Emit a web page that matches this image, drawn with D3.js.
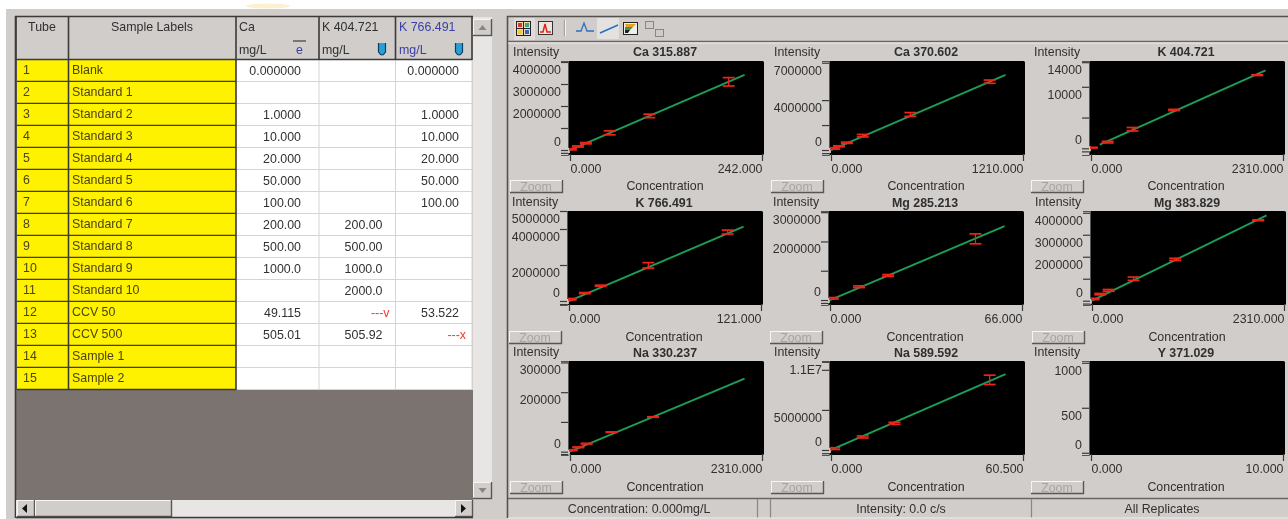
<!DOCTYPE html>
<html><head><meta charset="utf-8">
<style>html,body{margin:0;padding:0;background:#fff;overflow:hidden}svg{display:block;filter:blur(0.5px)}text{font-family:"Liberation Sans",Arial,sans-serif;fill:#303030;font-size:12.4px}</style>
<script src="https://cdn.jsdelivr.net/npm/d3@7"></script>
</head><body>
<svg id="c" width="1288" height="519"></svg>
<script>
// ---------- table data ----------
const tubes = [1,2,3,4,5,6,7,8,9,10,11,12,13,14,15];
const sampleLabels = ["Blank","Standard 1","Standard 2","Standard 3","Standard 4","Standard 5","Standard 6","Standard 7","Standard 8","Standard 9","Standard 10","CCV 50","CCV 500","Sample 1","Sample 2"];
const colCa = ["0.000000","","1.0000","10.000","20.000","50.000","100.00","200.00","500.00","1000.0","","49.115","505.01","",""];
const colK404 = ["","","","","","","","200.00","500.00","1000.0","2000.0","---v","505.92","",""];
const colK766 = ["0.000000","","1.0000","10.000","20.000","50.000","100.00","","","","","53.522","---x","",""];
const analyteHeaders = ["Ca","K 404.721","K 766.491"];

// ---------- calibration data ----------
const panelTitles = ["Ca 315.887","Ca 370.602","K 404.721","K 766.491","Mg 285.213","Mg 383.829","Na 330.237","Na 589.592","Y 371.029"];
const xMaxes = [242,1210,2310,121,66,2310,2310,60.5,10];
const yLimits = [[-227000,4045000],[-400000,7137000],[-1090,14195],[-222000,5000000],[-170000,3040000],[-195000,4080000],[-11200,304800],[-625000,11100000],[-25,1020]];

const ca315Conc=[1,10,20,50,100,200], ca315Int=[30000,160000,310000,780000,1550000,3100000], ca315Err=[25000,25000,30000,90000,80000,190000];
const ca370Conc=[20,50,100,200,500,1000], ca370Int=[120000,300000,580000,1150000,2850000,5480000], ca370Err=[60000,40000,50000,100000,150000,130000];
const k404Conc=[10,200,500,1000,2000], k404Int=[100,1000,3100,6230,11900], k404Err=[60,130,280,100,60];
const k766Conc=[1,10,20,50,100], k766Int=[100000,440000,850000,1980000,3830000], k766Err=[40000,30000,30000,150000,110000];
const mg285Conc=[1,10,20,50], mg285Int=[60000,455000,840000,2090000], mg285Err=[25000,30000,30000,170000];
const mg383Conc=[20,100,200,500,1000,2000], mg383Int=[80000,300000,470000,1000000,1880000,3660000], mg383Err=[30000,30000,40000,75000,50000,20000];
const na330Conc=[20,100,200,500,1000], na330Int=[5000,14700,27000,65700,116600], na330Err=[1500,1000,1000,800,800];
const na589Conc=[1,10,20,50], na589Int=[170000,1630000,3330000,8750000], na589Err=[110000,130000,120000,580000];
const y371Conc=[], y371Int=[], y371Err=[];
const concs=[ca315Conc,ca370Conc,k404Conc,k766Conc,mg285Conc,mg383Conc,na330Conc,na589Conc,y371Conc];
const ints=[ca315Int,ca370Int,k404Int,k766Int,mg285Int,mg383Int,na330Int,na589Int,y371Int];
const errs=[ca315Err,ca370Err,k404Err,k766Err,mg285Err,mg383Err,na330Err,na589Err,y371Err];
// fitted calibration lines: [conc start, conc end], [intensity start, intensity end]
const fitConc=[[0,220],[0,1100],[105,2100],[0,110],[0,60],[0,2100],[0,2100],[0,55],[]];
const fitInt=[[0,3410000],[0,6030000],[600,12680],[0,4130000],[0,2520000],[0,3880000],[0,245800],[0,9460000],[]];
const yTickVals=[
 [-130000,0,1000000,2000000,3000000,4000000],
 [-250000,0,2000000,4000000,7000000],
 [-500,0,5000,10000,14000],
 [-170000,0,2000000,4000000,5000000],
 [-100000,0,1000000,2000000,3000000],
 [-130000,0,1000000,2000000,3000000,4000000],
 [-8000,0,100000,200000,300000],
 [-400000,0,5000000,10000000,11000000],
 [0,500,1000]];
const yTickLabels=[
 {0:"0",2000000:"2000000",3000000:"3000000",4000000:"4000000"},
 {0:"0",4000000:"4000000",7000000:"7000000"},
 {0:"0",10000:"10000",14000:"14000"},
 {0:"0",2000000:"2000000",4000000:"4000000",5000000:"5000000"},
 {0:"0",2000000:"2000000",3000000:"3000000"},
 {0:"0",2000000:"2000000",3000000:"3000000",4000000:"4000000"},
 {0:"0",200000:"200000",300000:"300000"},
 {0:"0",5000000:"5000000",11000000:"1.1E7"},
 {0:"0",500:"500",1000:"1000"}];
const statusTexts=["Concentration: 0.000mg/L","Intensity: 0.0 c/s","All Replicates"];

// ---------- helpers ----------
const BG="#d1cdca", DARK="#3c3a3a", YEL="#fff200", RED="#ee2418", GREEN="#1c9e58";
const svg=d3.select("#c");
const rect=(p,x,y,w,h,f,s)=>p.append("rect").attr("x",x).attr("y",y).attr("width",w).attr("height",h).attr("fill",f).attr("stroke",s||"none");
const line=(p,x1,y1,x2,y2,c,w)=>p.append("line").attr("x1",x1).attr("y1",y1).attr("x2",x2).attr("y2",y2).attr("stroke",c).attr("stroke-width",w||1);
const text=(p,x,y,s,a,o)=>{const t=p.append("text").attr("x",x).attr("y",y).attr("dy",".35em").attr("text-anchor",a||"start").text(s);Object.entries(o||{}).forEach(([k,v])=>t.style(k,v));return t;};
function button(p,x,y,w,h){rect(p,x,y,w,h,BG);line(p,x,y+.5,x+w,y+.5,"#f6f5f3");line(p,x+.5,y,x+.5,y+h,"#f6f5f3");line(p,x,y+h-.5,x+w,y+h-.5,"#5a5654",1.4);line(p,x+w-.5,y,x+w-.5,y+h,"#5a5654",1.4);}

// ---------- window ----------
rect(svg,6,9,1282,510,BG);
svg.append("ellipse").attr("cx",268).attr("cy",6).attr("rx",22).attr("ry",2.5).attr("fill","#fdf0d0");

// ---------- table ----------
const colX=[16,68.5,236,319,395.5,472], rowH=22, rowTop=60;
const tb=svg.append("g");
rect(tb,16,17,456,43,BG);
rect(tb,236,60,236,330,"#fff");
rect(tb,16,390,457,110,"#7b7370");
const rows=tb.selectAll("g.row").data(tubes).join("g").attr("class","row").attr("transform",(d,i)=>`translate(0,${rowTop+i*rowH})`);
rows.append("rect").attr("x",17).attr("y",0).attr("width",218.5).attr("height",rowH-1).attr("fill",YEL);
rows.append("line").attr("x1",17).attr("x2",236).attr("y1",rowH-.5).attr("y2",rowH-.5).attr("stroke",DARK).attr("stroke-width",1.4);
rows.append("line").attr("x1",236).attr("x2",472).attr("y1",rowH-.5).attr("y2",rowH-.5).attr("stroke","#d8d3d0");
rows.append("text").attr("x",23).attr("y",9.5).attr("dy",".35em").style("fill","#4a4410").text(d=>d);
rows.append("text").attr("x",72).attr("y",9.5).attr("dy",".35em").style("fill","#4a4410").text((d,i)=>sampleLabels[i]);
[[colCa,301],[colK404,382.5],[colK766,459]].forEach(([col,x])=>{
  rows.append("text").attr("x",d=>col[d-1].startsWith("---")?x+7:x).attr("y",11).attr("dy",".35em").attr("text-anchor","end")
    .style("fill",d=>col[d-1].startsWith("---")?"#f03a30":"#303030").text(d=>col[d-1]);
});
colX.forEach((x,i)=>{ if(i<3) line(tb,x,17,x,390,DARK,1.6); });
[319,395.5,472].forEach(x=>line(tb,x,60,x,390,"#d8d3d0"));
[319,395.5,472].forEach(x=>line(tb,x,17,x,60,DARK,1.6));
line(tb,15,16.5,473,16.5,DARK,1.6);line(tb,16,59.5,472,59.5,DARK,1.6);
line(tb,15.5,16,15.5,518,DARK,1.6);
text(tb,42,27,"Tube","middle");
text(tb,152,27,"Sample Labels","middle");
analyteHeaders.forEach((h,i)=>{
  const x=[239,322,399][i];
  text(tb,x,27,h,"start",i==2?{fill:"#3a3fa8"}:{});
  text(tb,x,50,"mg/L","start",i==2?{fill:"#3a3fa8"}:{});
});
line(tb,293,41,306,41,"#7a7674",2);
text(tb,299.5,49.5,"e","middle",{fill:"#3a3fa8"});
[382,459].forEach(x=>{
  tb.append("path").attr("d",`M${x-3.5},43 V52 Q${x},58 ${x+3.5},52 V43`).attr("fill","#27a0d8").attr("stroke","#123c5c").attr("stroke-width",1.2);
});
rect(tb,473,17,19,482,"#e8e6e4");
button(tb,473,19,19,17);
tb.append("path").attr("d","M478.5,30 L482.5,25 L486.5,30 Z").attr("fill","#8a8684");
button(tb,473,482,19,17);
tb.append("path").attr("d","M478.5,488 L482.5,493 L486.5,488 Z").attr("fill","#8a8684");
rect(tb,16,500,457,18,"#e8e6e4");
button(tb,17,500,18,17);
tb.append("path").attr("d","M27,504 L22,508.5 L27,513 Z").attr("fill","#111");
button(tb,35,500,137,17);
button(tb,455,500,18,17);
tb.append("path").attr("d","M461,504 L466,508.5 L461,513 Z").attr("fill","#111");
line(tb,16,517.5,473,517.5,DARK,1.4);

// ---------- right frame + toolbar ----------
const fr=svg.append("g");
line(fr,507,16.5,1288,16.5,"#55514f",1.6);
line(fr,507.5,16,507.5,518,"#55514f",1.6);
line(fr,508,41.5,1288,41.5,"#6a6664",1.6);
line(fr,508,43,1288,43,"#f0eeec",1);
rect(fr,514,18,21,22,"#dedbd8");
rect(fr,516.5,21.5,14,14,"#f3d9b0","#222");
line(fr,523.5,21,523.5,36,"#222");line(fr,516,28.5,531,28.5,"#222");
rect(fr,518,23,4,4,"#d33");rect(fr,525,23,4,4,"#3a7");rect(fr,518,30,4,4,"#ec3");rect(fr,525,30,4,4,"#36c");
rect(fr,538.5,21.5,14,13,"#eee6dc","#333");
fr.append("path").attr("d","M540,32 H543 L545,24 L547,32 H551").attr("fill","none").attr("stroke","#d22").attr("stroke-width",1.5);
line(fr,564.5,20,564.5,36,"#a9a5a2",1.5);line(fr,565.5,20,565.5,36,"#f4f3f1",1);
fr.append("path").attr("d","M576,31 H581 L584,23 L587,31 H594").attr("fill","none").attr("stroke","#2a6fc0").attr("stroke-width",1.3);
rect(fr,597,18,22,21,"#e4e2e0");
line(fr,600,33,618,25,"#2a6fc0",1.4);
rect(fr,623.5,22.5,14,12,"#eee","#222");
fr.append("path").attr("d","M625,24 H636 L633,27 H626 Z").attr("fill","#e8a020");
fr.append("path").attr("d","M625,27 H633 L630,30 H625 Z").attr("fill","#3a9a50");
fr.append("path").attr("d","M625,30 H630 L628,33 H625 Z").attr("fill","#222");
rect(fr,645.5,21.5,8,7,"#cfcbc8","#8a8684");
rect(fr,655.5,29.5,8,7,"#cfcbc8","#8a8684");

// ---------- calibration panels ----------
const colLeft=[568,829,1089], rowTops=[61,211,361], plotW=196, plotH=94;
panelTitles.forEach((title,i)=>{
  const c=i%3, r=Math.floor(i/3);
  const left=colLeft[c]-(r==1&&c<2?1:0)+(r==1&&c==2?1:0), top=rowTops[r];
  const nudge=r>0?1:0;
  const g=svg.append("g");
  const x=d3.scaleLinear().domain([0,xMaxes[i]]).range([left+2,left+194]);
  const y=d3.scaleLinear().domain(yLimits[i]).range([top+plotH,top]);
  text(g,left-55,top-9,"Intensity","start");
  text(g,left+97,top-9+nudge,title,"middle",{"font-weight":"bold"});
  g.append("rect").attr("x",left).attr("y",top).attr("width",plotW).attr("height",plotH).attr("rx",1.5).attr("fill","#000");
  const ya=d3.axisLeft(y).tickValues(yTickVals[i]).tickSize(7).tickPadding(0).tickFormat(v=>yTickLabels[i][v]||"");
  const yg=g.append("g").attr("transform",`translate(${left},0)`).call(ya);
  yg.select(".domain").attr("stroke","#555");
  yg.selectAll(".tick line").attr("stroke","#3a3a3a").attr("stroke-width",1.2);
  yg.selectAll(".tick text").attr("dy",".35em").attr("y",v=>v===0?-9:7).style("font-size","12.4px");
  const xa=d3.axisBottom(x).tickValues([0,xMaxes[i]]).tickSize(7).tickPadding(0).tickFormat(v=>v.toFixed(3));
  const xg=g.append("g").attr("transform",`translate(0,${top+plotH-1})`).call(xa);
  xg.select(".domain").remove();
  xg.selectAll(".tick line").attr("stroke","#3a3a3a").attr("stroke-width",1.2);
  xg.selectAll(".tick text").attr("y",15).attr("dy",".35em").attr("text-anchor",(v)=>v===0?"start":"end").style("font-size","12.4px");
  if(concs[i].length){
    g.append("line").attr("x1",x(0)-1).attr("x2",x(0)-1).attr("y1",y(0)-2).attr("y2",y(0)+3).attr("stroke","#fff").attr("stroke-width",1.4);
    const fit=fitConc[i].map((v,k)=>[v,fitInt[i][k]]);
    g.append("path").attr("d",d3.line().x(d=>x(d[0])).y(d=>y(d[1]))(fit)).attr("fill","none").attr("stroke",GREEN).attr("stroke-width",1.9);
    const bars=g.selectAll("g.eb").data(concs[i].map((v,k)=>({c:v,v:ints[i][k],e:errs[i][k]}))).join("g").attr("class","eb");
    const half=6;
    bars.append("line").attr("x1",d=>x(d.c)).attr("x2",d=>x(d.c)).attr("y1",d=>y(d.v-d.e)).attr("y2",d=>y(d.v+d.e)).attr("stroke",RED).attr("stroke-width",1.3);
    bars.append("line").attr("x1",d=>Math.max(left+1,x(d.c)-half)).attr("x2",d=>x(d.c)+half).attr("y1",d=>y(d.v-d.e)).attr("y2",d=>y(d.v-d.e)).attr("stroke",RED).attr("stroke-width",1.7);
    bars.append("line").attr("x1",d=>Math.max(left+1,x(d.c)-half)).attr("x2",d=>x(d.c)+half).attr("y1",d=>y(d.v+d.e)).attr("y2",d=>y(d.v+d.e)).attr("stroke",RED).attr("stroke-width",1.7);
  }
  button(g,left-58,top+119+nudge,53,13);
  text(g,left-32,top+126+nudge,"Zoom","middle",{fill:"#a8a4a2"});
  text(g,left+97,top+125+nudge,"Concentration","middle");
});

// ---------- status bar ----------
const st=svg.append("g");
line(st,508,498.5,1288,498.5,"#6a6664",1.6);
[757.5,770.5,1031.5].forEach(x=>line(st,x,499,x,518,"#8a8684",1.2));
line(st,508,518,1288,518,"#f0eeec",1);
statusTexts.forEach((s,i)=>text(st,[639,901,1162][i],508.5,s,"middle"));
</script>
</body></html>
